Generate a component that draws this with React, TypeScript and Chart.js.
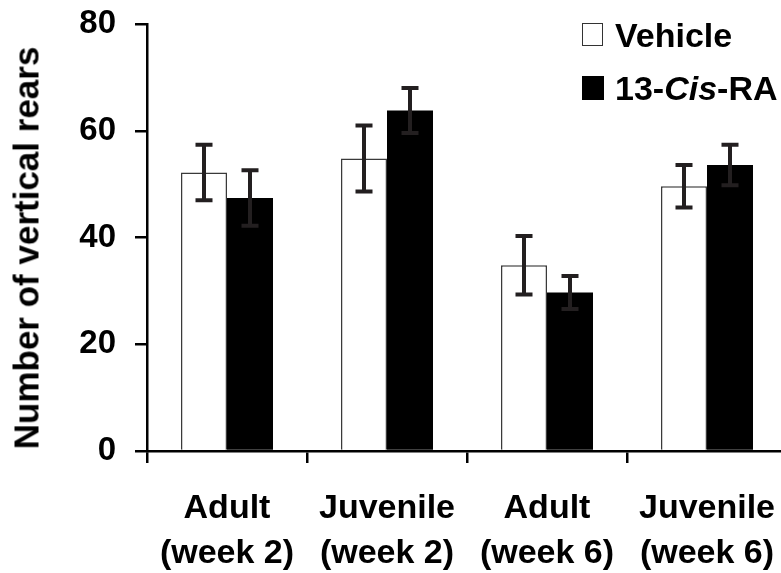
import React, { useEffect, useRef } from "react";
import { Chart, registerables } from "chart.js";

Chart.register(...registerables);

const categories: string[][] = [
  ["Adult", "(week 2)"],
  ["Juvenile", "(week 2)"],
  ["Adult", "(week 6)"],
  ["Juvenile", "(week 6)"],
];
const vehicle = [52.2, 54.8, 34.8, 49.6];
const vehicleErr = [5.2, 6.2, 5.5, 4.0];
const cisRA = [47.4, 63.8, 29.7, 53.6];
const cisRAErr = [5.2, 4.2, 3.1, 3.8];
const yTicks = [0, 20, 40, 60, 80];

const errors = [vehicleErr, cisRAErr];
const FONT = "'Liberation Sans', Arial, Helvetica, sans-serif";

const errorBarPlugin = {
  id: "errorBars",
  afterDatasetsDraw(chart: any) {
    const ctx = chart.ctx;
    const yScale = chart.scales.y;
    ctx.save();
    ctx.strokeStyle = "#231f20";
    ctx.lineWidth = 4;
    ctx.lineCap = "butt";
    chart.data.datasets.forEach((ds: any, di: number) => {
      const meta = chart.getDatasetMeta(di);
      meta.data.forEach((el: any, i: number) => {
        const v = ds.data[i];
        const e = errors[di][i];
        const x = el.x;
        const yTop = yScale.getPixelForValue(v + e);
        const yBot = yScale.getPixelForValue(v - e);
        const half = 8.5;
        ctx.beginPath();
        ctx.moveTo(x, yTop);
        ctx.lineTo(x, yBot);
        ctx.moveTo(x - half, yTop);
        ctx.lineTo(x + half, yTop);
        ctx.moveTo(x - half, yBot);
        ctx.lineTo(x + half, yBot);
        ctx.stroke();
      });
    });
    ctx.restore();
  },
};

export default function App() {
  const ref = useRef<HTMLCanvasElement | null>(null);
  useEffect(() => {
    if (!ref.current) return;
    const chart = new Chart(ref.current, {
      type: "bar",
      data: {
        labels: categories,
        datasets: [
          {
            label: "Vehicle",
            data: vehicle,
            backgroundColor: "#ffffff",
            borderColor: "#3a3a3a",
            borderWidth: 1.5,
            barPercentage: 1,
            categoryPercentage: 0.575,
          },
          {
            label: "13-Cis-RA",
            data: cisRA,
            backgroundColor: "#000000",
            borderColor: "#000000",
            borderWidth: 0,
            barPercentage: 1,
            categoryPercentage: 0.575,
          },
        ],
      },
      options: {
        animation: false,
        responsive: false,
        devicePixelRatio: 1,
        layout: { padding: { left: 0, top: 24, right: 13, bottom: 0 } },
        plugins: {
          legend: { display: false },
          tooltip: { enabled: false },
        },
        scales: {
          x: {
            afterFit: (scale: any) => {
              scale.height = 122;
              scale.paddingLeft = 0;
              scale.paddingRight = 0;
            },
            grid: {
              offset: true,
              drawOnChartArea: false,
              drawTicks: true,
              tickLength: 12,
              color: "#000000",
              lineWidth: 2.5,
            },
            border: { display: true, color: "#000000", width: 2.5 },
            ticks: {
              color: "#000000",
              padding: 23,
              maxRotation: 0,
              autoSkip: false,
              font: { family: FONT, size: 34, weight: "bold", lineHeight: 1.32 },
            },
          },
          y: {
            min: 0,
            max: 80,
            afterFit: (scale: any) => {
              scale.width = 147;
              scale.paddingTop = 0;
              scale.paddingBottom = 0;
            },
            afterBuildTicks: (scale: any) => {
              scale.ticks = yTicks.map((v) => ({ value: v }));
            },
            grid: {
              drawOnChartArea: false,
              drawTicks: true,
              tickLength: 12,
              color: "#000000",
              lineWidth: 2.5,
            },
            border: { display: true, color: "#000000", width: 2.5 },
            ticks: {
              color: "#000000",
              padding: 19,
              font: { family: FONT, size: 33, weight: "bold" },
            },
          },
        },
      },
      plugins: [errorBarPlugin],
    });
    return () => chart.destroy();
  }, []);

  const legendText: React.CSSProperties = {
    position: "absolute",
    left: 615,
    fontFamily: FONT,
    fontWeight: "bold",
    fontSize: 34,
    lineHeight: "34px",
    whiteSpace: "nowrap",
    color: "#000",
  };

  return (
    <div
      style={{
        position: "fixed",
        left: 0,
        top: 0,
        width: 781,
        height: 573,
        overflow: "hidden",
        background: "#fff",
      }}
    >
      <canvas ref={ref} width={800} height={573} style={{ position: "absolute", left: 0, top: 0, width: 800, height: 573 }} />
      <div
        style={{
          position: "absolute",
          left: 26,
          top: 248,
          transform: "translate(-50%, -50%) rotate(-90deg)",
          fontFamily: FONT,
          fontWeight: "bold",
          fontSize: 35,
          lineHeight: "35px",
          whiteSpace: "nowrap",
          color: "#000",
        }}
      >
        Number of vertical rears
      </div>
      <div
        style={{
          position: "absolute",
          left: 582,
          top: 23,
          width: 19,
          height: 21,
          border: "1.5px solid #333",
          background: "#fff",
        }}
      />
      <div style={{ ...legendText, top: 18 }}>Vehicle</div>
      <div
        style={{
          position: "absolute",
          left: 582,
          top: 76,
          width: 22,
          height: 24,
          background: "#000",
        }}
      />
      <div style={{ ...legendText, top: 71 }}>
        13-<i>Cis</i>-RA
      </div>
    </div>
  );
}
